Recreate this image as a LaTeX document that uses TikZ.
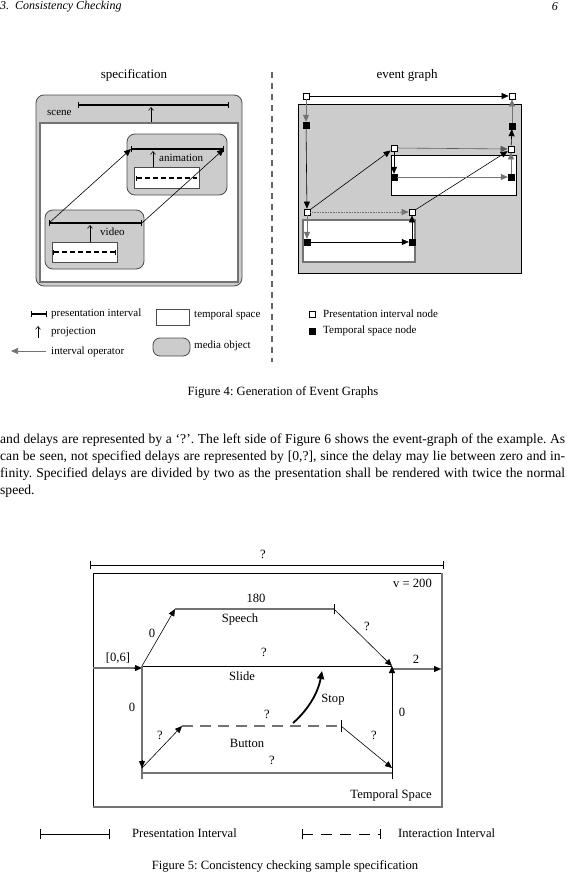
\documentclass[tikz,border=0pt]{standalone}
\usepackage{fontspec}
\setmainfont{Liberation Serif}
\usetikzlibrary{arrows.meta}
\frenchspacing
\begin{document}
\begin{tikzpicture}[x=1pt,y=-1pt,
  lbl/.style={inner sep=0pt,font=\fontsize{11}{13}\selectfont},
  big/.style={inner sep=0pt,font=\fontsize{12.6}{14}\selectfont},
  body/.style={inner sep=0pt,font=\fontsize{13.6}{16}\selectfont},
  ivl/.style={line width=1.3pt,{Bar[width=6pt]}-{Bar[width=6pt]}},
  proj/.style={line width=0.6pt,-{Straight Barb[length=3pt,width=5pt]}},
  op/.style={line width=0.6pt,-{Triangle[length=7pt,width=6pt]}},
  media/.style={draw=black!70,fill=black!20,rounded corners=8pt,line width=0.8pt},
  tspace/.style={draw=black!70,fill=white,line width=0.8pt},
  wn/.style={draw,fill=white,minimum size=6pt,inner sep=0pt,line width=0.7pt},
  bn/.style={draw,fill=black,minimum size=6pt,inner sep=0pt},
]
\useasboundingbox (0,0) rectangle (567,875);
% header
\node[anchor=west,inner sep=0pt,font=\itshape\fontsize{12}{14}\selectfont] (hdr) at (0,7) {3.\ \ Consistency Checking};
\node[anchor=east,inner sep=0pt,font=\itshape\fontsize{12}{14}\selectfont] (pgno) at (558,7) {6};

% ===== Figure 4 left: specification =====
\node[inner sep=0pt,font=\fontsize{13}{15}\selectfont] (spec) at (134,75) {specification};
\draw[media] (36,95) rectangle (242,286);
\draw[draw=black!55,fill=white,line width=1.4pt] (40,123) rectangle (238,282);
\node[lbl,anchor=west] (scenelbl) at (47,113) {scene};
\coordinate (si1) at (78,105); \coordinate (si2) at (229,105);
\draw[ivl] (si1) -- (si2);
\coordinate (sp0) at (151,122); \coordinate (sp1) at (151,107);
\draw[proj] (sp0) -- (sp1);
% animation
\draw[media] (127,134) rectangle (227,195);
\coordinate (ai1) at (131,149); \coordinate (ai2) at (224,149);
\draw[ivl] (ai1) -- (ai2);
\draw[tspace] (134,167) rectangle (199,188);
\coordinate (ap0) at (153,167); \coordinate (ap1) at (153,151);
\draw[proj] (ap0) -- (ap1);
\node[lbl,anchor=west] (animlbl) at (159,158) {animation};
\draw[line width=1.3pt,dash pattern=on 5pt off 3pt,{Bar[width=5pt]}-] (136,178) -- (197,178);
% video
\draw[media] (45,210) rectangle (144,269);
\coordinate (vi1) at (49,223); \coordinate (vi2) at (142,223);
\draw[ivl] (vi1) -- (vi2);
\draw[tspace] (52,242) rectangle (117,262);
\coordinate (vp0) at (90,242); \coordinate (vp1) at (90,225);
\draw[proj] (vp0) -- (vp1);
\node[lbl,anchor=west] (videolbl) at (100,232) {video};
\draw[line width=1.3pt,dash pattern=on 5pt off 3pt,{Bar[width=5pt]}-{Bar[width=5pt]}] (53,252) -- (116,252);
% interval operators
\draw[op] (vi1) -- (ai1);
\draw[op] (vi2) -- (ai2);

% separator
\coordinate (sepA) at (272,72); \coordinate (sepB) at (272,362);
\draw[black!60,line width=1.2pt,dash pattern=on 6pt off 5pt] (sepA) -- (sepB);

% ===== Figure 4 right: event graph =====
\node[inner sep=0pt,font=\fontsize{13}{15}\selectfont] (evg) at (407,75) {event graph};
\draw[fill=black!20,line width=0.8pt] (298,104) rectangle (521,273);
\draw[draw=black,fill=white,line width=0.8pt] (391,155) rectangle (516,195);
\draw[draw=black!55,fill=white,line width=1.2pt] (303,220) rectangle (415,262);
\node[wn] (tl) at (306,96) {};
\node[wn] (tr) at (512,96) {};
\node[bn] (tlb) at (306,125) {};
\node[bn] (trb) at (512,126) {};
\node[wn] (mr) at (511,149) {};
\node[wn] (as) at (394,148) {};
\node[bn] (asb) at (394,177) {};
\node[bn] (aeb) at (511,177) {};
\node[wn] (vs) at (307,212) {};
\node[wn] (ve) at (412,212) {};
\node[bn] (vsb) at (307,242) {};
\node[bn] (veb) at (412,242) {};
\draw[op] (tl) -- (tr);
\draw[op,black!55] (tl) -- (tlb);
\draw[op] (tlb) -- (vs);
\draw[op] (vs) -- (as);
\draw[op,black!55,densely dotted] (vs) -- (ve);
\draw[op,black!55] (vs) -- (vsb);
\draw[op] (vsb) -- (veb);
\draw[op] (veb) -- (ve);
\draw[op] (ve) -- (mr);
\draw[op,black!65] (as) -- (mr);
\draw[op] (as) -- (asb);
\draw[op,black!55] (asb) -- (aeb);
\draw[op,black!55] (aeb) -- (mr);
\draw[op] (mr) -- (trb);
\draw[op,black!55] (trb) -- (tr);

% ===== Figure 4 legend =====
\coordinate (lg1a) at (31,314); \coordinate (lg1b) at (47,314);
\draw[line width=1.3pt,{Bar[width=6pt]}-{Bar[width=6pt]}] (lg1a) -- (lg1b);
\node[lbl,anchor=west] (lgt1) at (51,314) {presentation interval};
\coordinate (lg2a) at (38,338); \coordinate (lg2b) at (38,326);
\draw[proj] (lg2a) -- (lg2b);
\node[lbl,anchor=west] (lgt2) at (51,332) {projection};
\coordinate (lg3a) at (46,351); \coordinate (lg3b) at (11,351);
\draw[op,black!55] (lg3a) -- (lg3b);
\node[lbl,anchor=west] (lgt3) at (51,352) {interval operator};
\draw[tspace] (156,309) rectangle (189,325);
\node[lbl,anchor=west] (lgt4) at (194,315) {temporal space};
\draw[media,rounded corners=7pt] (153,338) rectangle (190,356);
\node[lbl,anchor=west] (lgt5) at (194,346) {media object};
\node[wn] (lgw) at (312,314) {};
\node[lbl,anchor=west] (lgt6) at (323,314) {Presentation interval node};
\node[bn] (lgb) at (312,331) {};
\node[lbl,anchor=west] (lgt7) at (323,331) {Temporal space node};

\node[big] (cap4) at (283,392) {Figure 4: Generation of Event Graphs};

% ===== paragraph =====
\node[body,anchor=west] (p1) at (0,440) {\makebox[565pt][s]{and delays are represented by a ‘?’. The left side of Figure 6 shows the event-graph of the example. As}};
\node[body,anchor=west] (p2) at (0,457) {\makebox[565pt][s]{can be seen, not specified delays are represented by [0,?], since the delay may lie between zero and in-}};
\node[body,anchor=west] (p3) at (0,474) {\makebox[565pt][s]{finity. Specified delays are divided by two as the presentation shall be rendered with twice the normal}};
\node[body,anchor=west] (p4) at (0,491) {speed.};

% ===== Figure 5 =====
\coordinate (ta) at (90,565); \coordinate (tb) at (444,565);
\draw[line width=0.7pt,{Bar[width=8pt]}-{Bar[width=8pt]}] (ta) -- (tb);
\node[big] (tq) at (263,554) {?};
\draw[line width=0.8pt] (93,807) -- (93,573) -- (442,573);
\draw[black!55,line width=1.3pt] (442,573) -- (442,807) -- (93,807);
\node[big,anchor=east] (v200) at (432,583) {v = 200};
\node[big,anchor=east] (tsl) at (432,795) {Temporal Space};

% speech
\coordinate (spa) at (175,609); \coordinate (spb) at (334,609);
\draw[black!55,line width=1.3pt] (spa) -- (spb);
\draw[line width=0.6pt] (334,604) -- (334,614);
\node[big] (l180) at (256,598) {180};
\node[big] (speech) at (240,619) {Speech};
% slide
\coordinate (sla) at (142,666); \coordinate (slb) at (392,666);
\draw[line width=0.8pt] (sla) -- (slb);
\node[big] (slq) at (264,652) {?};
\node[big] (slide) at (242,676) {Slide};
% incoming
\coordinate (in0) at (93,668);
\draw[black!55,line width=1.2pt] (in0) -- (140,668);
\draw[-{Triangle[length=7pt,width=6pt]},line width=0.1pt,black] (134,668) -- (sla |- in0);
\node[big] (l06) at (118,658) {[0,6]};
\draw[op] (sla) -- (spa);
\node[big] (l0a) at (152,633) {0};
\draw[op] (spb) -- (slb);
\node[big] (lqa) at (367,626) {?};
% outgoing
\coordinate (out1) at (392,669); \coordinate (out2) at (441,669);
\draw[black!55,line width=1.2pt] (out1) -- (434,669);
\draw[-{Triangle[length=7pt,width=6pt]},line width=0.1pt] (434,669) -- (out2);
\node[big] (l2) at (416,659) {2};
% left vertical
\coordinate (lvb) at (142,768);
\draw[black!55,line width=1.2pt] (sla) -- (142,779);
\draw[-{Triangle[length=7pt,width=6pt]},line width=0.1pt] (142,760) -- (lvb);
\node[big] (l0b) at (132,707) {0};
% bottom interval
\coordinate (bta) at (143,773); \coordinate (btb) at (392,773);
\draw[black!55,line width=1.3pt] (bta) -- (btb);
\draw[line width=0.6pt] (392,767) -- (392,779);
\node[big] (btq) at (272,760) {?};
% button
\coordinate (bua) at (182,726); \coordinate (bub) at (341,726);
\draw[black!55,line width=1.3pt,dash pattern=on 11pt off 7pt] (bua) -- (bub);
\draw[line width=0.6pt] (341,720) -- (341,732);
\node[big] (buq) at (267,714) {?};
\node[big] (button) at (247,743) {Button};
\draw[op] (lvb) -- (bua);
\node[big] (lq1) at (160,735) {?};
\draw[op] (bub) -- (392,768);
\node[big] (lq2) at (374,735) {?};
% right vertical
\coordinate (rva) at (392,779);
\draw[line width=0.8pt,-{Triangle[length=7pt,width=6pt]}] (rva) -- (slb);
\node[big] (l0c) at (402,712) {0};
% stop
\coordinate (sta) at (293,723); \coordinate (stb) at (322,671);
\draw[line width=1.8pt,-{Triangle[length=8pt,width=7pt]}] (sta) .. controls (308,710) and (318,693) .. (stb);
\node[big] (stop) at (333,700) {Stop};

% legend fig 5
\coordinate (pia) at (40,834); \coordinate (pib) at (110,834);
\draw[line width=0.6pt,{Bar[width=10pt]}-{Bar[width=10pt]}] (pia) -- (pib);
\node[big,anchor=west] (pit) at (132,833) {Presentation Interval};
\coordinate (iia) at (302,834); \coordinate (iib) at (381,834);
\draw[line width=0.6pt,dash pattern=on 11pt off 8pt,{Bar[width=10pt]}-{Bar[width=10pt]}] (iia) -- (iib);
\node[big,anchor=west] (iit) at (398,833) {Interaction Interval};
\node[big] (cap5) at (285,866) {Figure 5: Concistency checking sample specification};
\end{tikzpicture}
\end{document}
